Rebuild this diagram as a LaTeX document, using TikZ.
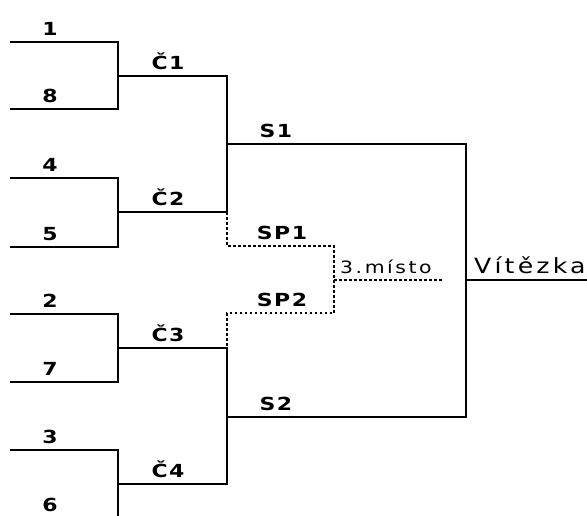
\documentclass[tikz,border=0pt]{standalone}
\usepackage{fontspec}
\newfontfamily\bracketfont[FakeStretch=1.22,LetterSpace=8]{DejaVu Sans}
\newfontfamily\widefont[FakeStretch=1.2,LetterSpace=15]{DejaVu Sans}
\usepackage{tikz}
\usetikzlibrary{calc}

\tikzset{
	bline/.style={line width=1.8pt, line cap=rect},
	dline/.style={line width=1.4pt, dash pattern=on 2.5pt off 2.5pt},
	lab/.style={anchor=base, inner sep=0pt, font=\bracketfont\bfseries\fontsize{18}{18}\selectfont},
	plainlab/.style={anchor=base west, inner sep=0pt, font=\widefont\fontsize{21}{21}\selectfont}
}

\begin{document}
\begin{tikzpicture}[x=1pt,y=-1pt]
	\useasboundingbox (0,0) rectangle (587,515);
	\begin{scope}
	\clip (0,0) rectangle (587,515);

	%first round
	\foreach \name/\y [count=\i] in {1/42,8/109,4/178,5/247,2/314,7/382,3/450,6/518}{
		\coordinate (a\i) at (11,\y);
		\coordinate (b\i) at (118,\y);
		\node[lab] (n\i) at (50,\y-7) {\name};
		\draw[bline] (a\i)--(b\i);
	}

	%quarterfinals
	\foreach \y/\j/\k [count=\i] in {76/1/2,212/3/4,348/5/6,484/7/8}{
		\coordinate (c\i) at (118,\y);
		\coordinate (d\i) at (227,\y);
		\node[lab] (q\i) at (168,\y-7) {Č\i};
		\draw[bline] (b\j)--(b\k);
		\draw[bline] (c\i)--(d\i);
	}

	%semifinals
	\coordinate (e1) at (227,144);
	\coordinate (f1) at (466,144);
	\coordinate (e2) at (227,417);
	\coordinate (f2) at (466,417);
	\node[lab] (s1) at (276,137) {S1};
	\node[lab] (s2) at (276,410) {S2};
	\draw[bline] (d1)--(d2);
	\draw[bline] (d3)--(d4);
	\draw[bline] (e1)--(f1);
	\draw[bline] (e2)--(f2);

	%final
	\coordinate (g) at (466,280);
	\coordinate (h) at (587,280);
	\draw[bline] (f1)--(f2);
	\draw[bline] (g)--(h);
	\node[plainlab] (win) at (474,273) {Vítězka};

	%third place
	\coordinate (p1) at (227,246);
	\coordinate (p2) at (334,246);
	\coordinate (p3) at (227,313);
	\coordinate (p4) at (334,313);
	\coordinate (m1) at (334,280);
	\coordinate (m2) at (443,280);
	\node[lab] (sp1) at (282,239) {SP1};
	\node[lab] (sp2) at (282,306) {SP2};
	\node[plainlab, font=\widefont\fontsize{17}{17}\selectfont] (third) at (340,273) {3.místo};
	\draw[dline] (d2)--(p1)--(p2)--(p4)--(p3)--(d3);
	\draw[dline] (m1)--(m2);
	\end{scope}
\end{tikzpicture}
\end{document}
